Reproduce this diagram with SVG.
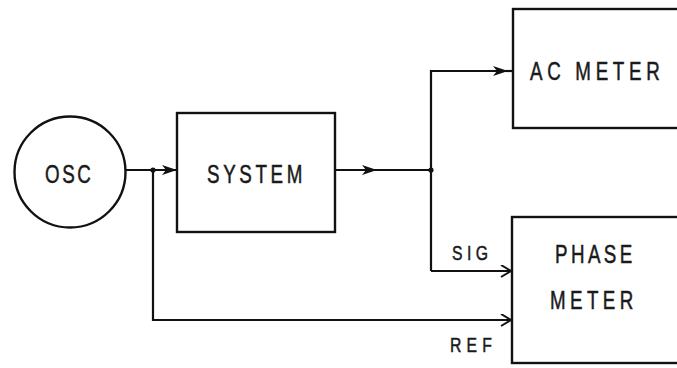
<svg xmlns="http://www.w3.org/2000/svg" width="677" height="368" viewBox="0 0 677 368">
<style>
.ln{fill:none;stroke:#111;stroke-width:2.2;stroke-linejoin:miter}
.bx{fill:#fff;stroke:#111;stroke-width:2.4}
.t{font-family:"Liberation Sans",Arial,sans-serif;font-size:25px;fill:#1a1a1a;stroke:#1a1a1a;stroke-width:0.5}
.s{font-family:"Liberation Sans",Arial,sans-serif;font-size:21px;fill:#1a1a1a;stroke:#1a1a1a;stroke-width:0.5}
</style>
<defs>
<marker id="fa" markerUnits="userSpaceOnUse" markerWidth="16" markerHeight="12" refX="15" refY="5" orient="auto">
<path d="M0,0 L15,5 L0,10 L4,5 Z" fill="#111"/>
</marker>
<marker id="oa" markerUnits="userSpaceOnUse" markerWidth="14" markerHeight="14" refX="12" refY="6" orient="auto">
<path d="M2,0 L12,6 L2,12" fill="none" stroke="#111" stroke-width="2"/>
</marker>
</defs>
<rect width="677" height="368" fill="#fff"/>
<g id="connectors">
<path class="ln" d="M125,170 L177,170" marker-end="url(#fa)"/>
<path class="ln" d="M335,170 L377,170" marker-end="url(#fa)"/>
<path class="ln" d="M375,170 L431,170"/>
<path class="ln" d="M431,271 L431,71 L508,71" marker-end="url(#fa)"/>
<path class="ln" d="M506,71 L513,71"/>
<path class="ln" d="M431,271 L511,271" marker-end="url(#oa)"/>
<path class="ln" d="M153,170 L153,320 L511,320" marker-end="url(#oa)"/>
<circle cx="153" cy="170" r="2.6" fill="#111"/>
<circle cx="431" cy="170" r="2.6" fill="#111"/>
<text class="s" transform="translate(452,260) scale(0.75,1)" x="0" y="0" textLength="48" lengthAdjust="spacing">SIG</text>
<text class="s" transform="translate(450,352) scale(0.75,1)" x="0" y="0" textLength="56" lengthAdjust="spacing">REF</text>
</g>
<g id="osc">
<circle class="bx" cx="70" cy="172" r="55.5"/>
<text class="t" transform="translate(45,183) scale(0.75,1)" x="0" y="0" textLength="61" lengthAdjust="spacing">OSC</text>
</g>
<g id="system">
<rect class="bx" x="177" y="113" width="158" height="119"/>
<text class="t" transform="translate(207,183) scale(0.75,1)" x="0" y="0" textLength="127" lengthAdjust="spacing">SYSTEM</text>
</g>
<g id="ac-meter">
<rect class="bx" x="513" y="9" width="200" height="119"/>
<text class="t" transform="translate(530,80) scale(0.75,1)" x="0" y="0" textLength="173" lengthAdjust="spacing">AC METER</text>
</g>
<g id="phase-meter">
<rect class="bx" x="512" y="217" width="200" height="146"/>
<text class="t" transform="translate(555,263) scale(0.75,1)" x="0" y="0" textLength="103" lengthAdjust="spacing">PHASE</text>
<text class="t" transform="translate(550,309) scale(0.75,1)" x="0" y="0" textLength="111" lengthAdjust="spacing">METER</text>
</g>
</svg>
